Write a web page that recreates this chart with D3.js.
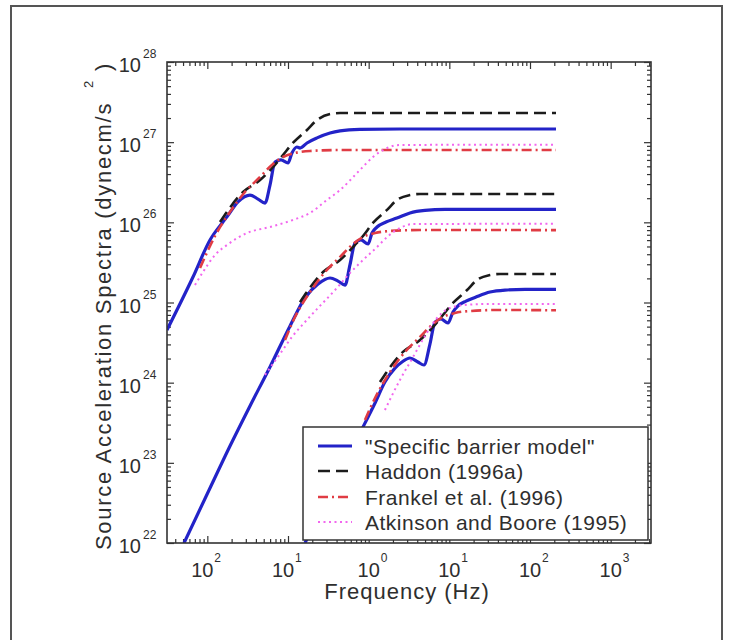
<!DOCTYPE html>
<html>
<head>
<meta charset="utf-8">
<script src="https://cdn.jsdelivr.net/npm/d3@7"></script>
<style>
  body { margin: 0; background: #fff; }
  text { font-family: "Liberation Sans", Arial, Helvetica, sans-serif; fill: #2e2e2e; }
</style>
</head>
<body>
<div id="chart"></div>
<script>
// tick labels as printed on the figure (minus signs lost in the scan)
const xTickValues = [0.01, 0.1, 1, 10, 100, 1000];
const xTickExponents = ["2", "1", "0", "1", "2", "3"];
const yTickValues = [1e22, 1e23, 1e24, 1e25, 1e26, 1e27, 1e28];
const yTickExponents = ["22", "23", "24", "25", "26", "27", "28"];

// [frequency Hz, acceleration spectrum dyne-cm/s^2]
// largest event
const barrierM1 = [[0.00316,4.54e24],[0.00664,2.08e25],[0.0108,6.03e25],[0.0156,1.01e26],[0.0175,1.17e26],
  [0.024,1.80e26],[0.0338,2.19e26],[0.0425,1.95e26],[0.0519,1.74e26],[0.0598,2.92e26],[0.069,5.66e26],
  [0.0818,6.0e26],[0.1,5.5e26],[0.112,7.33e26],[0.129,8.7e26],[0.141,8.45e26],[0.172,9.77e26],
  [0.229,1.13e27],[0.332,1.30e27],[0.442,1.38e27],[0.78,1.44e27],[2.44,1.46e27],[210,1.46e27]];
const haddonM1 = [[0.01436,1.01e26],[0.0277,2.39e26],[0.045,3.37e26],[0.0652,4.9e26],[0.0867,6.92e26],
  [0.115,9.77e26],[0.172,1.42e27],[0.229,1.89e27],[0.332,2.24e27],[0.442,2.31e27],[210,2.31e27]];
const frankelM1 = [[0.00812,2.69e25],[0.01245,6.76e25],[0.0191,1.35e26],[0.0293,2.39e26],[0.045,3.68e26],
  [0.0652,5.35e26],[0.0867,6.53e26],[0.122,7.33e26],[0.1875,7.76e26],[0.442,7.98e26],[210,8.0e26]];
const atkinsonM1 = [[0.00703,1.65e25],[0.00883,2.40e25],[0.01245,3.92e25],[0.0175,5.21e25],[0.031,7.36e25],
  [0.0598,8.75e25],[0.115,1.07e26],[0.1875,1.31e26],[0.304,1.90e26],[0.442,2.53e26],[0.78,4.50e26],
  [1.13,6.53e26],[1.69,8.45e26],[2.44,9.23e26],[210,9.3e26]];

// middle event
const barrierM2 = [[0.00514,1.0e22],[0.0108,4.85e22],[0.0191,1.62e23],[0.0338,5.12e23],[0.0598,1.57e24],
  [0.106,5.1e24],[0.1625,1.14e25],[0.236,1.70e25],[0.332,2.02e25],[0.417,1.85e25],[0.509,1.65e25],
  [0.586,2.94e25],[0.676,5.52e25],[0.803,6.03e25],[0.982,5.37e25],[1.10,7.36e25],[1.27,8.75e25],
  [1.64,1.01e26],[2.24,1.13e26],[3.25,1.31e26],[4.99,1.41e26],[8.83,1.45e26],[210,1.45e26]];
const haddonM2 = [[0.141,1.01e25],[0.272,2.40e25],[0.442,3.39e25],[0.64,4.92e25],[0.851,6.76e25],
  [1.13,9.82e25],[1.69,1.43e26],[2.24,1.90e26],[3.25,2.19e26],[4.33,2.26e26],[210,2.26e26]];
const frankelM2 = [[0.0918,3.40e24],[0.122,6.59e24],[0.1875,1.35e25],[0.288,2.40e25],[0.442,3.70e25],
  [0.64,5.37e25],[0.851,6.56e25],[1.20,7.36e25],[1.84,7.80e25],[4.33,8.02e25],[210,8.0e25]];
const atkinsonM2 = [[0.0519,1.25e24],[0.0796,2.28e24],[0.112,3.72e24],[0.1625,5.71e24],[0.249,9.06e24],
  [0.383,1.43e25],[0.586,2.33e25],[0.851,3.39e25],[1.27,4.92e25],[1.69,6.56e25],[2.44,8.49e25],
  [3.55,9.53e25],[210,9.6e25]];

// smallest event
const barrierM3 = [[0.1625,1.0e22],[0.249,2.44e22],[0.442,7.69e22],[0.78,2.36e23],[1.20,5.58e23],
  [1.59,1.02e24],[2.12,1.52e24],[2.59,1.81e24],[3.25,2.03e24],[4.08,1.81e24],[4.85,1.66e24],
  [5.75,3.03e24],[6.64,5.71e24],[7.88,6.23e24],[9.62,5.55e24],[11.1,7.62e24],[12.8,9.06e24],
  [16.1,1.04e25],[21.4,1.17e25],[31.9,1.35e25],[49.0,1.43e25],[86.7,1.46e25],[210,1.46e25]];
const haddonM3 = [[1.38,1.02e24],[2.66,2.42e24],[4.33,3.40e24],[6.27,4.95e24],[8.34,6.99e24],
  [11.1,9.86e24],[16.6,1.43e25],[22.0,1.91e25],[31.9,2.20e25],[42.5,2.27e25],[210,2.27e25]];
const frankelM3 = [[0.90,3.43e23],[1.20,6.44e23],[1.84,1.36e24],[2.82,2.42e24],[4.33,3.72e24],
  [6.27,5.40e24],[8.34,6.59e24],[11.7,7.39e24],[18.0,7.83e24],[42.5,8.07e24],[210,8.0e24]];
const atkinsonM3 = [[1.59,4.56e23],[2.44,1.08e24],[3.55,2.09e24],[4.99,3.82e24],[7.03,6.41e24],
  [10.2,8.55e24],[15.6,9.31e24],[31.9,9.6e24],[210,9.6e24]];

const seriesNames = ['"Specific barrier model"', "Haddon (1996a)", "Frankel et al. (1996)", "Atkinson and Boore (1995)"];

const W = 730, H = 640;
const plot = { left: 167, right: 651, top: 62, bottom: 543 };

const styles = [
  { color: "#2323c8", width: 3.2, dash: null },
  { color: "#1c1c1c", width: 2.6, dash: "12,6" },
  { color: "#e03c44", width: 2.6, dash: "10,4,2,4" },
  { color: "#f266ee", width: 2, dash: "2,3.5" }
];

const groups = [
  [barrierM1, haddonM1, frankelM1, atkinsonM1],
  [barrierM2, haddonM2, frankelM2, atkinsonM2],
  [barrierM3, haddonM3, frankelM3, atkinsonM3]
];

const x = d3.scaleLog().domain([Math.pow(10, -2.5), Math.pow(10, 3.5)]).range([plot.left, plot.right]);
const y = d3.scaleLog().domain([1e22, 1e28]).range([plot.bottom, plot.top]);

const svg = d3.select("#chart").append("svg")
    .attr("width", W).attr("height", H)
    .attr("viewBox", [0, 0, W, H]);

svg.append("rect").attr("width", W).attr("height", H).attr("fill", "#fff");

// outer frame of the scanned figure
svg.append("rect")
    .attr("x", 11).attr("y", 6).attr("width", 711).attr("height", 660)
    .attr("fill", "none").attr("stroke", "#555").attr("stroke-width", 2);

svg.append("clipPath").attr("id", "clip")
  .append("rect")
    .attr("x", plot.left).attr("y", plot.top)
    .attr("width", plot.right - plot.left).attr("height", plot.bottom - plot.top);

// minor tick values
const minorX = [];
for (let d = -3; d <= 3; d++) for (let k = 2; k <= 9; k++) {
  const v = k * Math.pow(10, d);
  if (v > x.domain()[0] && v < x.domain()[1]) minorX.push(v);
}
const minorY = [];
for (let d = 22; d <= 27; d++) for (let k = 2; k <= 9; k++) minorY.push(k * Math.pow(10, d));

const tickAxis = (gen, vals, size) => g => g
    .call(gen.tickValues(vals).tickSize(size).tickFormat(() => ""))
    .call(g => g.select(".domain").remove())
    .call(g => g.selectAll("line").attr("stroke", "#333").attr("stroke-width", 1.2));

const axes = svg.append("g");
axes.append("g").attr("transform", `translate(0,${plot.bottom})`).call(tickAxis(d3.axisBottom(x), xTickValues, -7));
axes.append("g").attr("transform", `translate(0,${plot.bottom})`).call(tickAxis(d3.axisBottom(x), minorX, -4));
axes.append("g").attr("transform", `translate(0,${plot.top})`).call(tickAxis(d3.axisTop(x), xTickValues, -7));
axes.append("g").attr("transform", `translate(0,${plot.top})`).call(tickAxis(d3.axisTop(x), minorX, -4));
axes.append("g").attr("transform", `translate(${plot.left},0)`).call(tickAxis(d3.axisLeft(y), yTickValues, -7));
axes.append("g").attr("transform", `translate(${plot.left},0)`).call(tickAxis(d3.axisLeft(y), minorY, -4));
axes.append("g").attr("transform", `translate(${plot.right},0)`).call(tickAxis(d3.axisRight(y), yTickValues, -7));
axes.append("g").attr("transform", `translate(${plot.right},0)`).call(tickAxis(d3.axisRight(y), minorY, -4));

// curves
const line = d3.line()
    .x(d => x(d[0]))
    .y(d => y(d[1]))
    .curve(d3.curveMonotoneX);

const curves = svg.append("g").attr("clip-path", "url(#clip)").attr("fill", "none");
styles.forEach((s, i) => {
  groups.forEach(grp => {
    curves.append("path")
        .attr("d", line(grp[i]))
        .attr("stroke", s.color)
        .attr("stroke-width", s.width)
        .attr("stroke-dasharray", s.dash)
        .attr("stroke-linejoin", "round");
  });
});

// plot box
svg.append("rect")
    .attr("x", plot.left).attr("y", plot.top)
    .attr("width", plot.right - plot.left).attr("height", plot.bottom - plot.top)
    .attr("fill", "none").attr("stroke", "#333").attr("stroke-width", 1.6);

// x tick labels
const xLab = svg.append("g");
xTickValues.forEach((v, i) => {
  const cx = x(v) + (v < 1 ? -5 : 0);
  xLab.append("text").attr("x", cx).attr("y", 577)
      .attr("text-anchor", "middle").style("font-size", "20px").text("10");
  xLab.append("text").attr("x", cx + 12).attr("y", 562)
      .style("font-size", "12px").text(xTickExponents[i]);
});

// y tick labels
const yLab = svg.append("g");
yTickValues.forEach((v, i) => {
  const cy = y(v);
  yLab.append("text").attr("x", 141).attr("y", cy + 10)
      .attr("text-anchor", "end").style("font-size", "20px").text("10");
  yLab.append("text").attr("x", 143).attr("y", cy - 4)
      .style("font-size", "12px").text(yTickExponents[i]);
});

// axis titles
svg.append("text")
    .attr("x", 407).attr("y", 599)
    .attr("text-anchor", "middle")
    .style("font-size", "22px").style("letter-spacing", "1px")
    .text("Frequency (Hz)");

const yTitle = svg.append("text")
    .attr("transform", "translate(111,550) rotate(-90)")
    .style("font-size", "22px").style("letter-spacing", "1.7px");
yTitle.append("tspan").text("Source Acceleration Spectra (dynecm/s");
yTitle.append("tspan").attr("dx", 14).attr("dy", -18).style("font-size", "13px").text("2");
yTitle.append("tspan").attr("dx", 8).attr("dy", 18).text(")");

// legend
const legend = svg.append("g");
legend.append("rect")
    .attr("x", 303).attr("y", 427).attr("width", 345).attr("height", 113)
    .attr("fill", "#fff").attr("stroke", "#333").attr("stroke-width", 1.5);
const rowY = [446, 471, 497, 522];
seriesNames.forEach((name, i) => {
  const s = styles[i];
  legend.append("line")
      .attr("x1", 318).attr("x2", 352).attr("y1", rowY[i]).attr("y2", rowY[i])
      .attr("stroke", s.color).attr("stroke-width", s.width)
      .attr("stroke-dasharray", s.dash);
  legend.append("text")
      .attr("x", 365).attr("y", rowY[i] + 7.5)
      .style("font-size", "21px").style("letter-spacing", "0.5px")
      .text(name);
});
</script>
</body>
</html>
